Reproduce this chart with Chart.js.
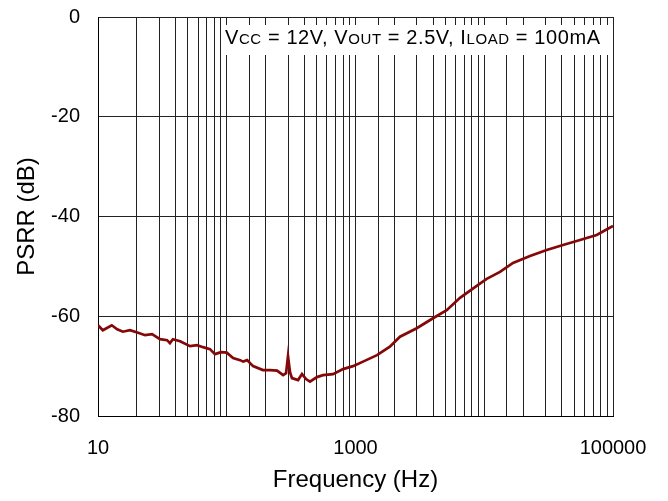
<!DOCTYPE html>
<html>
<head>
<meta charset="utf-8">
<script src="https://cdn.jsdelivr.net/npm/chart.js@4/dist/chart.umd.min.js"></script>
<style>
  html, body { margin: 0; padding: 0; background: #fff; }
  #wrap { width: 668px; height: 501px; }
</style>
</head>
<body>
<div id="wrap"><canvas id="psrr" width="668" height="501"></canvas></div>
<script>
// PSRR vs frequency
var freqHz = [10, 10.9, 12.8, 14.1, 15.6, 17.7, 20.5, 23.2, 26.3, 30.3, 34.4, 36.2, 38.2, 43.4,
  51.8, 58.8, 65.4, 74.1, 81, 90.2, 100, 112, 127, 134, 144, 160, 191, 217, 246, 274, 289,
  299, 310, 321, 358, 384, 413, 443, 502, 559, 669, 800, 956, 1144, 1469, 1849, 2216, 2988,
  4000, 5108, 6481, 8738, 10447, 13256, 16720, 22664, 30555, 40907, 55432, 74695, 100000];
var psrrDb = [-61.8, -62.8, -61.8, -62.6, -63.1, -62.8, -63.3, -63.8, -63.6, -64.6, -64.8, -65.4,
  -64.6, -65.0, -66.0, -65.8, -66.2, -66.6, -67.6, -67.2, -67.3, -68.4, -68.8, -69.1, -68.8,
  -70.0, -70.8, -70.8, -70.9, -71.8, -71.4, -68.0, -71.2, -72.4, -72.8, -71.6, -72.6, -73.1,
  -72.2, -71.8, -71.6, -70.6, -70.0, -69.1, -67.8, -66.1, -64.1, -62.4, -60.4, -58.8, -56.3,
  -53.9, -52.5, -51.1, -49.3, -47.9, -46.7, -45.7, -44.7, -43.7, -41.9];
var xLabels = [10, 1000, 100000];
var yTicks = [0, -20, -40, -60, -80];

var points = freqHz.map(function(f, i) {
  return { x: f, y: psrrDb[i] };
});

// condition box drawn over the grid, top right
var conditionsBox = {
  id: 'conditionsBox',
  afterDatasetsDraw: function(chart) {
    var ctx = chart.ctx;
    var area = chart.chartArea;
    var parts = [
      ['V', 0], ['CC', 1], [' = 12V, V', 0], ['OUT', 1], [' = 2.5V, I', 0], ['LOAD', 1], [' = 100mA', 0]
    ];
    var big = '20px "Liberation Sans", Arial, sans-serif';
    var small = '15px "Liberation Sans", Arial, sans-serif';
    ctx.save();
    ctx.fillStyle = '#fff';
    ctx.fillRect(area.left + 124, area.top + 8, area.right - area.left - 129, 30);
    ctx.fillStyle = '#000';
    ctx.textBaseline = 'alphabetic';
    ctx.letterSpacing = '0.6px';
    var x = area.left + 127;
    var y = area.top + 27;
    parts.forEach(function(p) {
      ctx.font = p[1] ? small : big;
      ctx.fillText(p[0], x, y);
      x += ctx.measureText(p[0]).width;
    });
    ctx.restore();
  }
};

document.addEventListener('DOMContentLoaded', function() {
  new Chart('psrr', {
    type: 'line',
    data: {
      datasets: [{
        label: 'PSRR',
        data: points,
        borderColor: '#850808',
        borderWidth: 2.7,
        pointRadius: 0,
        tension: 0,
        fill: false
      }]
    },
    options: {
      responsive: false,
      animation: false,
      layout: { padding: { top: 17, right: 55, left: 0, bottom: 0 } },
      plugins: { legend: { display: false }, tooltip: { enabled: false } },
      scales: {
        x: {
          type: 'logarithmic',
          min: 10,
          max: 100000,
          afterFit: function(scale) {
            scale.height = 85;
            scale.paddingLeft = 0;
            scale.paddingRight = 0;
          },
          grid: { color: '#222', lineWidth: 1, drawTicks: false },
          border: { color: '#000', width: 1 },
          ticks: {
            autoSkip: false,
            maxRotation: 0,
            padding: 20,
            color: '#000',
            font: { family: '"Liberation Sans", Arial, sans-serif', size: 20 },
            callback: function(v) { return xLabels.indexOf(v) >= 0 ? String(v) : ''; }
          },
          title: {
            display: true,
            text: 'Frequency (Hz)',
            color: '#000',
            font: { family: '"Liberation Sans", Arial, sans-serif', size: 24 },
            padding: { top: 0, bottom: 6 }
          }
        },
        y: {
          min: yTicks[yTicks.length - 1],
          max: yTicks[0],
          afterFit: function(scale) {
            scale.width = 98;
            scale.paddingTop = 0;
            scale.paddingBottom = 0;
          },
          grid: { color: '#222', lineWidth: 1, drawTicks: false },
          border: { color: '#000', width: 1 },
          ticks: {
            stepSize: 20,
            padding: 18,
            color: '#000',
            font: { family: '"Liberation Sans", Arial, sans-serif', size: 20 }
          },
          title: {
            display: true,
            text: 'PSRR (dB)',
            color: '#000',
            font: { family: '"Liberation Sans", Arial, sans-serif', size: 24 },
            padding: { top: 13, bottom: 0 }
          }
        }
      }
    },
    plugins: [conditionsBox]
  });
});
</script>
</body>
</html>
